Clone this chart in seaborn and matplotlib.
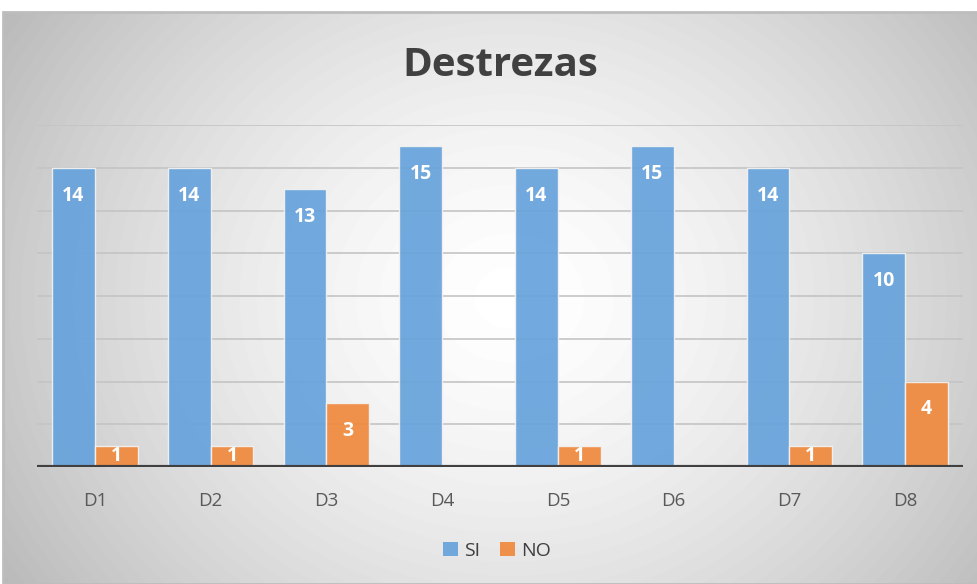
import numpy as np
import pandas as pd
import matplotlib.pyplot as plt
import matplotlib.patches as mpatches
import seaborn as sns

# Datos
categorias = ['D1', 'D2', 'D3', 'D4', 'D5', 'D6', 'D7', 'D8']
si = [14, 14, 13, 15, 14, 15, 14, 10]
no = [1, 1, 3, 0, 1, 0, 1, 4]
series = ['SI', 'NO']
colores = ['#67A3DC', '#F08A3E']

df = pd.DataFrame({
    'Destreza': categorias * 2,
    'Respuesta': ['SI'] * len(categorias) + ['NO'] * len(categorias),
    'Cantidad': si + no,
})

sns.set_theme(style='white')
plt.rcParams['font.family'] = ['Open Sans', 'DejaVu Sans']

W, H = 978, 584
fig = plt.figure(figsize=(W / 100, H / 100), dpi=100)

# Fondo con degradado radial (estilo Excel)
bg = fig.add_axes([0, 0, 1, 1], zorder=0)
x0, y0 = 3, 12
yy, xx = np.mgrid[0:H - y0, 0:W - x0]
cx, cy = (W - x0) * 0.52, (H - y0) * 0.5
r = np.sqrt(((xx - cx) / (W * 0.55)) ** 2 + ((yy - cy) / (H * 0.8)) ** 2)
g = 1 - 0.23 * np.clip(r, 0, 1.3) ** 1.5
bg.imshow(g, cmap='gray', vmin=0, vmax=1, extent=[x0, W, H, y0], aspect='auto')
bg.add_patch(mpatches.Rectangle((x0, y0), W - x0, H - y0, fill=False,
                                edgecolor='#bdbdbd', linewidth=2))
bg.set_xlim(0, W)
bg.set_ylim(H, 0)
bg.axis('off')

# Grafico de barras
ax = fig.add_axes([37 / W, 117 / H, 926 / W, 342 / H], zorder=1)
ax.patch.set_alpha(0)
sns.barplot(data=df, x='Destreza', y='Cantidad', hue='Respuesta',
            palette=colores, saturation=1, width=0.74, alpha=0.93,
            edgecolor='#f2f2f2', linewidth=1, ax=ax, zorder=3, legend=False)

ax.set_ylim(0, 16)
ax.set_xlim(-0.5, len(categorias) - 0.5)
ax.set_yticks(np.arange(0, 17, 2))
ax.yaxis.grid(True, color='#c4c4c4', linewidth=1.2)
ax.set_axisbelow(True)
ax.tick_params(axis='y', left=False, labelleft=False)
ax.tick_params(axis='x', bottom=False, labelsize=13.5, labelcolor='#595959', pad=12)
ax.set_xlabel('')
ax.set_ylabel('')
for s in ax.spines.values():
    s.set_visible(False)
ax.axhline(0, color='#404040', linewidth=3, zorder=4)

# Etiquetas de datos
for container, valores in zip(ax.containers, [si, no]):
    for bar, v in zip(container, valores):
        if v > 0:
            xc = bar.get_x() + bar.get_width() / 2
            ax.text(xc, max(v - 1.3, v / 2), str(v), ha='center', va='center',
                    color='white', fontsize=14, fontweight='bold', zorder=5)

# Leyenda
handles = [mpatches.Patch(facecolor=c, alpha=0.93, edgecolor='none') for c in colores]
ax.legend(handles, series, loc='center', bbox_to_anchor=(0.497, -0.246), ncol=2,
          frameon=False, fontsize=14, labelcolor='#404040', handlelength=0.75,
          handleheight=0.75, handletextpad=0.35, columnspacing=1.0)

# Titulo
fig.text(500 / W, 1 - 66 / H, 'Destrezas', ha='center', va='center',
         fontsize=29, fontweight='bold', color='#404040')

fig.savefig('out.png', dpi=100)
